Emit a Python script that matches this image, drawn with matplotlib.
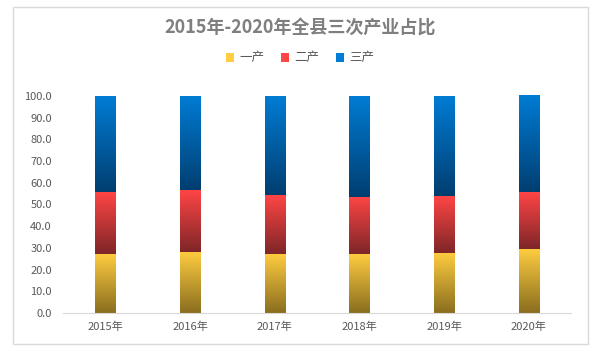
import matplotlib
matplotlib.use('Agg')
import matplotlib.pyplot as plt
import numpy as np
from matplotlib.colors import LinearSegmentedColormap
from matplotlib.patches import Rectangle, Patch

plt.rcParams['font.family'] = ['Noto Sans CJK SC', 'DejaVu Sans']

years = ['2015年', '2016年', '2017年', '2018年', '2019年', '2020年']
primary = [27.3, 28.2, 27.3, 27.2, 27.7, 29.6]
secondary = [28.5, 28.5, 27.1, 26.3, 26.2, 26.2]
tertiary = [44.2, 43.3, 45.6, 46.5, 46.0, 44.4]
series_names = ['一产', '二产', '三产']

# (top colour, bottom colour) for each series
grads = [('#ffcd40', '#8a6e1f'), ('#ff4545', '#7e2628'), ('#007cd4', '#003e70')]

fig = plt.figure(figsize=(6, 3.53), dpi=100)
fig.patches.append(Rectangle((13 / 600, 1 - 344 / 353), 575 / 600, 337 / 353,
                             transform=fig.transFigure, fill=False,
                             edgecolor='#d9d9d9', linewidth=1))
ax = fig.add_axes([63 / 600, 1 - 313 / 353, 508 / 600, 217 / 353])

x = np.arange(len(years))
width = 0.24
bottom = np.zeros(len(years))
grad = np.linspace(0, 1, 256).reshape(-1, 1)
for vals, (top, bot) in zip([primary, secondary, tertiary], grads):
    cmap = LinearSegmentedColormap.from_list('g', [bot, top])
    bars = ax.bar(x, vals, width, bottom=bottom, color='none', linewidth=0)
    for b in bars:
        x0, y0 = b.get_x(), b.get_y()
        im = ax.imshow(grad, cmap=cmap, origin='lower', aspect='auto',
                       extent=[x0, x0 + b.get_width(), y0, y0 + b.get_height()],
                       zorder=2)
        im.set_clip_path(b)
        im.set_clip_on(False)
    bottom += np.array(vals)

ax.set_xlim(-0.5, len(years) - 0.5)
ax.set_ylim(0, 100)
ax.set_yticks(np.arange(0, 101, 10))
ax.set_yticklabels([f'{v:.1f}' for v in np.arange(0, 101, 10)])
ax.set_xticks(x)
ax.set_xticklabels(years)
ax.tick_params(axis='both', length=0, labelsize=8, colors='#595959')
ax.tick_params(axis='y', pad=8)
ax.tick_params(axis='x', pad=6)
for s in ['top', 'right', 'left']:
    ax.spines[s].set_visible(False)
ax.spines['bottom'].set_color('#d9d9d9')

fig.text(0.5, 1 - 28 / 353, '2015年-2020年全县三次产业占比', ha='center', va='center',
         fontsize=13, fontweight='bold', color='#7f7f7f')

handles = [Patch(facecolor=t, edgecolor='none') for t, b in grads]
fig.legend(handles, series_names, loc='center', bbox_to_anchor=(0.5, 1 - 58 / 353),
           ncol=3, frameon=False, fontsize=9, labelcolor='#595959',
           handlelength=0.7, handleheight=0.7, columnspacing=1.3, handletextpad=0.4)

fig.savefig('out.png', dpi=100)
